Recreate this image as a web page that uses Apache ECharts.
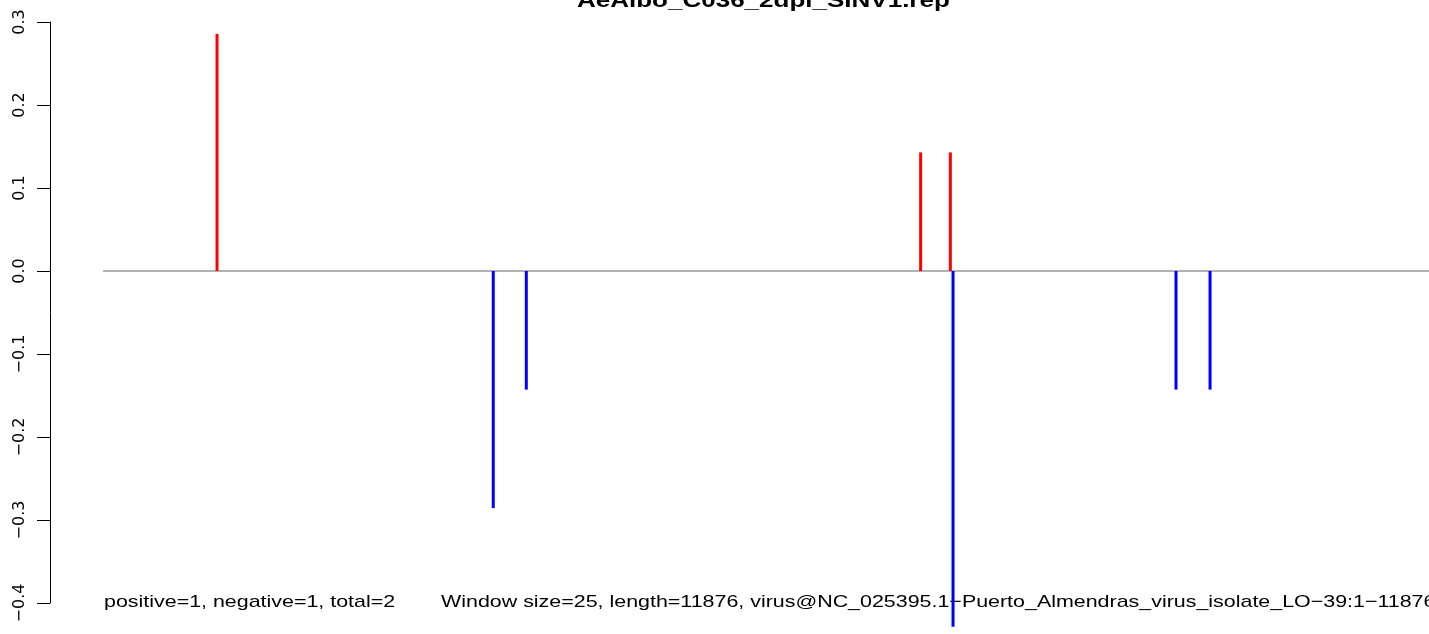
<!DOCTYPE html>
<html>
<head>
<meta charset="utf-8">
<script src="https://cdn.jsdelivr.net/npm/echarts@6/dist/echarts.min.js"></script>
<style>
html, body { margin: 0; padding: 0; background: #fff; }
#chart { width: 1429px; height: 634px; }
</style>
</head>
<body>
<div id="chart"></div>
<script>
// window positions along the genome and their scores
var positions = [1021, 3495, 3791, 7323, 7589, 7613, 9610, 9915];
var scores = [0.2857, -0.2857, -0.1429, 0.1429, 0.1429, -0.4286, -0.1429, -0.1429];
var genomeLength = 11876;
var yTicks = [-0.4, -0.3, -0.2, -0.1, 0.0, 0.1, 0.2, 0.3];

var titleText = 'AeAlbo_C036_2dpi_SINV1.rep';
var countsText = 'positive=1, negative=1, total=2';
var infoText = 'Window size=25, length=11876, virus@NC_025395.1\u2212Puerto_Almendras_virus_isolate_LO\u221239:1\u221211876';

var font = '"Liberation Sans", Arial, Helvetica, sans-serif';
var axisFont = '"DejaVu Sans", "Liberation Sans", Arial, sans-serif';

var data = [];
for (var i = 0; i < positions.length; i++) {
    data.push([positions[i], scores[i]]);
}

function fmt(v) {
    return v.toFixed(1).replace('-', '\u2212');
}

var chart = echarts.init(document.getElementById('chart'));

var option = {
    animation: false,
    backgroundColor: '#ffffff',
    grid: { left: 50, right: 0, top: 22, bottom: 31 },
    xAxis: {
        type: 'value',
        min: -475,
        max: genomeLength,
        show: false
    },
    yAxis: {
        type: 'value',
        min: yTicks[0],
        max: yTicks[yTicks.length - 1],
        interval: 0.1,
        splitLine: { show: false },
        axisLine: { show: true, onZero: false, lineStyle: { color: '#000', width: 1 } },
        axisTick: { show: true, length: 13, lineStyle: { color: '#000' } },
        axisLabel: {
            rotate: 90,
            margin: 22,
            fontFamily: axisFont,
            fontSize: 16,
            color: '#000',
            formatter: fmt
        }
    },
    graphic: [
        {
            type: 'text', x: 577, y: 1, scaleX: 1.3,
            style: { text: titleText, font: 'bold 20px ' + font, fill: '#000', verticalAlign: 'middle' }
        },
        {
            type: 'text', x: 104, y: 602, scaleX: 1.26,
            style: { text: countsText, font: '17px ' + font, fill: '#000', verticalAlign: 'middle' }
        },
        {
            type: 'text', x: 441, y: 602, scaleX: 1.26,
            style: { text: infoText, font: '17px ' + font, fill: '#000', verticalAlign: 'middle' }
        }
    ],
    series: [
        {
            type: 'line',
            data: [[0, 0], [genomeLength, 0]],
            symbol: 'none',
            lineStyle: { color: '#999999', width: 1.5 },
            z: 1
        },
        {
            type: 'custom',
            clip: false,
            z: 3,
            data: data,
            renderItem: function (params, api) {
                var x = api.value(0);
                var y = api.value(1);
                var p0 = api.coord([x, 0]);
                var p1 = api.coord([x, y]);
                return {
                    type: 'line',
                    shape: { x1: p0[0], y1: p0[1], x2: p1[0], y2: p1[1] },
                    style: { stroke: y > 0 ? '#ff0000' : '#0000ff', lineWidth: 3 }
                };
            }
        }
    ]
};

chart.setOption(option);
</script>
</body>
</html>
